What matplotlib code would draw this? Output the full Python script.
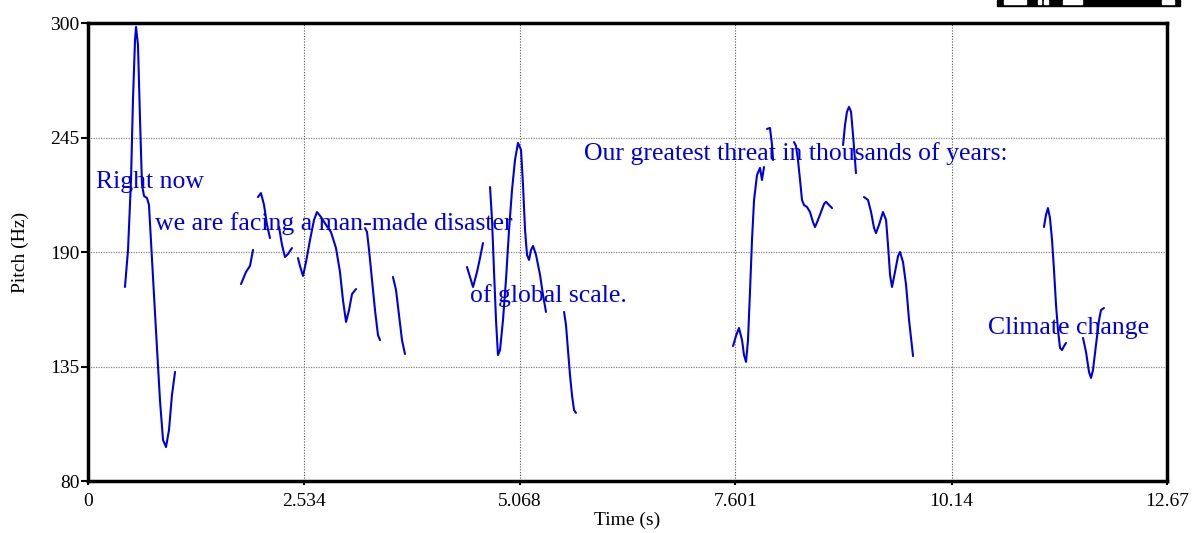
import matplotlib
matplotlib.use("Agg")
import matplotlib.pyplot as plt
from matplotlib.patches import Rectangle

plt.rcParams['font.family'] = ['Liberation Serif', 'DejaVu Serif']

# ---- data: pitch contour segments (time s, pitch Hz) ----
seg1_t = [0.434, 0.470, 0.505, 0.528, 0.552, 0.564, 0.587, 0.611, 0.634, 0.658, 0.693, 0.716,
          0.752, 0.798, 0.845, 0.881, 0.916, 0.951, 0.986, 1.022]
seg1_f = [173.2, 191.0, 224.6, 263.0, 291.8, 298.1, 289.4, 253.4, 222.2, 216.9, 215.9, 212.6,
          186.2, 152.5, 118.9, 99.7, 96.3, 104.5, 121.3, 132.4]
seg2_t = [1.797, 1.855, 1.902, 1.938]
seg2_f = [174.6, 180.4, 183.3, 191.0]
seg3_t = [1.996, 2.031, 2.067, 2.102, 2.137]
seg3_f = [216.4, 218.3, 212.6, 203.0, 196.7]
seg4_t = [2.243, 2.278, 2.313, 2.348, 2.395]
seg4_f = [202.0, 193.4, 187.6, 189.0, 191.9]
seg5_t = [2.466, 2.489, 2.525, 2.560, 2.607, 2.654, 2.689, 2.736, 2.795, 2.853, 2.912, 2.959,
          2.994, 3.030, 3.065, 3.100, 3.147]
seg5_f = [187.1, 183.3, 178.5, 185.2, 195.8, 205.4, 209.2, 206.8, 203.0, 199.6, 191.9, 180.4,
          166.9, 156.4, 162.1, 169.8, 172.2]
seg6_t = [3.253, 3.276, 3.300, 3.335, 3.370, 3.405, 3.429]
seg6_f = [201.5, 199.6, 191.0, 176.6, 162.1, 150.1, 147.7]
seg7_t = [3.581, 3.617, 3.652, 3.687, 3.722]
seg7_f = [178.0, 171.7, 159.7, 147.7, 141.0]
seg8_t = [4.450, 4.486, 4.521, 4.568, 4.603, 4.638]
seg8_f = [182.8, 178.0, 173.2, 180.4, 187.1, 194.3]
seg9_t = [4.721, 4.744, 4.767, 4.791, 4.814, 4.838, 4.873, 4.908, 4.944, 4.979, 5.014, 5.049,
          5.085, 5.108, 5.132, 5.155, 5.179, 5.202, 5.226, 5.261, 5.308, 5.343, 5.378]
seg9_f = [221.2, 205.4, 181.4, 157.3, 140.5, 142.9, 157.3, 176.6, 200.6, 219.8, 234.2, 242.4,
          239.0, 222.2, 200.6, 188.6, 186.2, 191.0, 192.9, 188.6, 179.0, 169.3, 161.2]
seg10_t = [5.590, 5.613, 5.636, 5.660, 5.683, 5.707, 5.730]
seg10_f = [161.2, 154.9, 142.9, 130.9, 121.3, 114.1, 112.7]
seg11_t = [7.574, 7.609, 7.644, 7.680, 7.703, 7.727, 7.750, 7.774, 7.797, 7.821, 7.856, 7.891,
           7.914, 7.938]
seg11_f = [144.8, 149.7, 153.5, 147.7, 140.5, 137.2, 147.7, 171.7, 195.8, 215.0, 227.0, 230.4,
           224.6, 230.8]
seg12_t = [7.973, 8.008, 8.032, 8.044]
seg12_f = [249.1, 249.6, 241.4, 234.2]
seg13_t = [8.290, 8.314, 8.337, 8.361, 8.384, 8.407, 8.443, 8.478, 8.513, 8.537, 8.572, 8.607,
           8.643, 8.666, 8.701, 8.737]
seg13_f = [242.8, 240.9, 234.2, 224.6, 215.0, 212.6, 211.6, 209.2, 204.4, 202.0, 205.4, 209.2,
           213.1, 214.1, 212.6, 211.1]
seg14_t = [8.866, 8.889, 8.912, 8.936, 8.960, 8.983, 9.006, 9.018]
seg14_f = [241.4, 251.0, 257.3, 259.7, 257.3, 246.3, 234.2, 227.9]
seg15_t = [9.112, 9.159, 9.195, 9.230, 9.253, 9.288, 9.335, 9.371, 9.394, 9.418, 9.441, 9.476,
           9.512, 9.535, 9.570, 9.606, 9.641, 9.688]
seg15_f = [216.4, 215.0, 209.2, 201.5, 199.1, 203.0, 209.2, 205.4, 193.4, 179.0, 173.2, 180.4,
           188.1, 190.0, 185.2, 174.2, 157.3, 140.0]
seg16_t = [11.225, 11.249, 11.272, 11.296, 11.320, 11.343, 11.367, 11.390, 11.414, 11.437,
           11.461, 11.484]
seg16_f = [202.0, 207.8, 211.1, 206.3, 195.8, 181.4, 164.5, 152.5, 143.9, 142.9, 144.8, 146.3]
seg17_t = [11.684, 11.719, 11.754, 11.778, 11.801, 11.836, 11.872, 11.895, 11.930]
seg17_f = [148.7, 142.0, 132.4, 129.5, 133.3, 145.3, 157.3, 162.1, 163.1]

segments = [(seg1_t, seg1_f), (seg2_t, seg2_f), (seg3_t, seg3_f), (seg4_t, seg4_f),
            (seg5_t, seg5_f), (seg6_t, seg6_f), (seg7_t, seg7_f), (seg8_t, seg8_f),
            (seg9_t, seg9_f), (seg10_t, seg10_f), (seg11_t, seg11_f), (seg12_t, seg12_f),
            (seg13_t, seg13_f), (seg14_t, seg14_f), (seg15_t, seg15_f), (seg16_t, seg16_f),
            (seg17_t, seg17_f)]

x_ticks = [0, 2.534, 5.068, 7.601, 10.14, 12.67]
x_labels = ["0", "2.534", "5.068", "7.601", "10.14", "12.67"]
y_ticks = [80, 135, 190, 245, 300]
y_labels = ["80", "135", "190", "245", "300"]

texts = ["Right now", "we are facing a man-made disaster", "of global scale.",
         "Our greatest threat in thousands of years:", "Climate change"]
text_t = [0.094, 0.787, 4.486, 5.824, 10.568]
text_f = [220.7, 200.6, 166.0, 234.2, 150.6]

# ---- figure ----
fig = plt.figure(figsize=(11.93, 5.33), dpi=100)
ax = fig.add_axes([88/1193, 52/533, (1167-88)/1193, (481-23)/533])

for t, f in segments:
    ax.plot(t, f, color='#0000dd', lw=1.5, solid_capstyle='round', solid_joinstyle='round')

ax.set_xlim(0, 12.67)
ax.set_ylim(80, 300)
ax.set_xticks(x_ticks)
ax.set_xticklabels(x_labels)
ax.set_yticks(y_ticks)
ax.set_yticklabels(y_labels)

for x in x_ticks[1:-1]:
    ax.axvline(x, color='#555555', lw=0.8, ls=(0, (1, 1.5)), zorder=0)
for y in y_ticks[1:-1]:
    ax.axhline(y, color='#888888', lw=0.9, ls=(0, (1, 1)), zorder=0)

for s in ax.spines.values():
    s.set_linewidth(2.5)
    s.set_color('black')

ax.tick_params(axis='y', direction='out', length=5, width=1.5, labelsize=14, pad=1)
ax.tick_params(axis='x', direction='out', length=3, width=1.5, labelsize=14, pad=6)
ax.set_xlabel("Time (s)", fontsize=14, labelpad=1)
ax.set_ylabel("Pitch (Hz)", fontsize=14, labelpad=15)

for s, t, f in zip(texts, text_t, text_f):
    ax.text(t, f, s, color='#0000dd', fontsize=18.5, va='baseline', ha='left')

# black fragment at top-right edge
fig.patches.append(Rectangle((997/1193, 1 - 6/533), (1180-997)/1193, 6/533,
                             transform=fig.transFigure, color='black'))
for x0, x1 in [(1004, 1026), (1038, 1041), (1044, 1048), (1063, 1082), (1162, 1174)]:
    fig.patches.append(Rectangle((x0/1193, 1 - 4/533), (x1-x0)/1193, 4/533,
                                 transform=fig.transFigure, color='white'))

fig.savefig("out.png", dpi=100)
